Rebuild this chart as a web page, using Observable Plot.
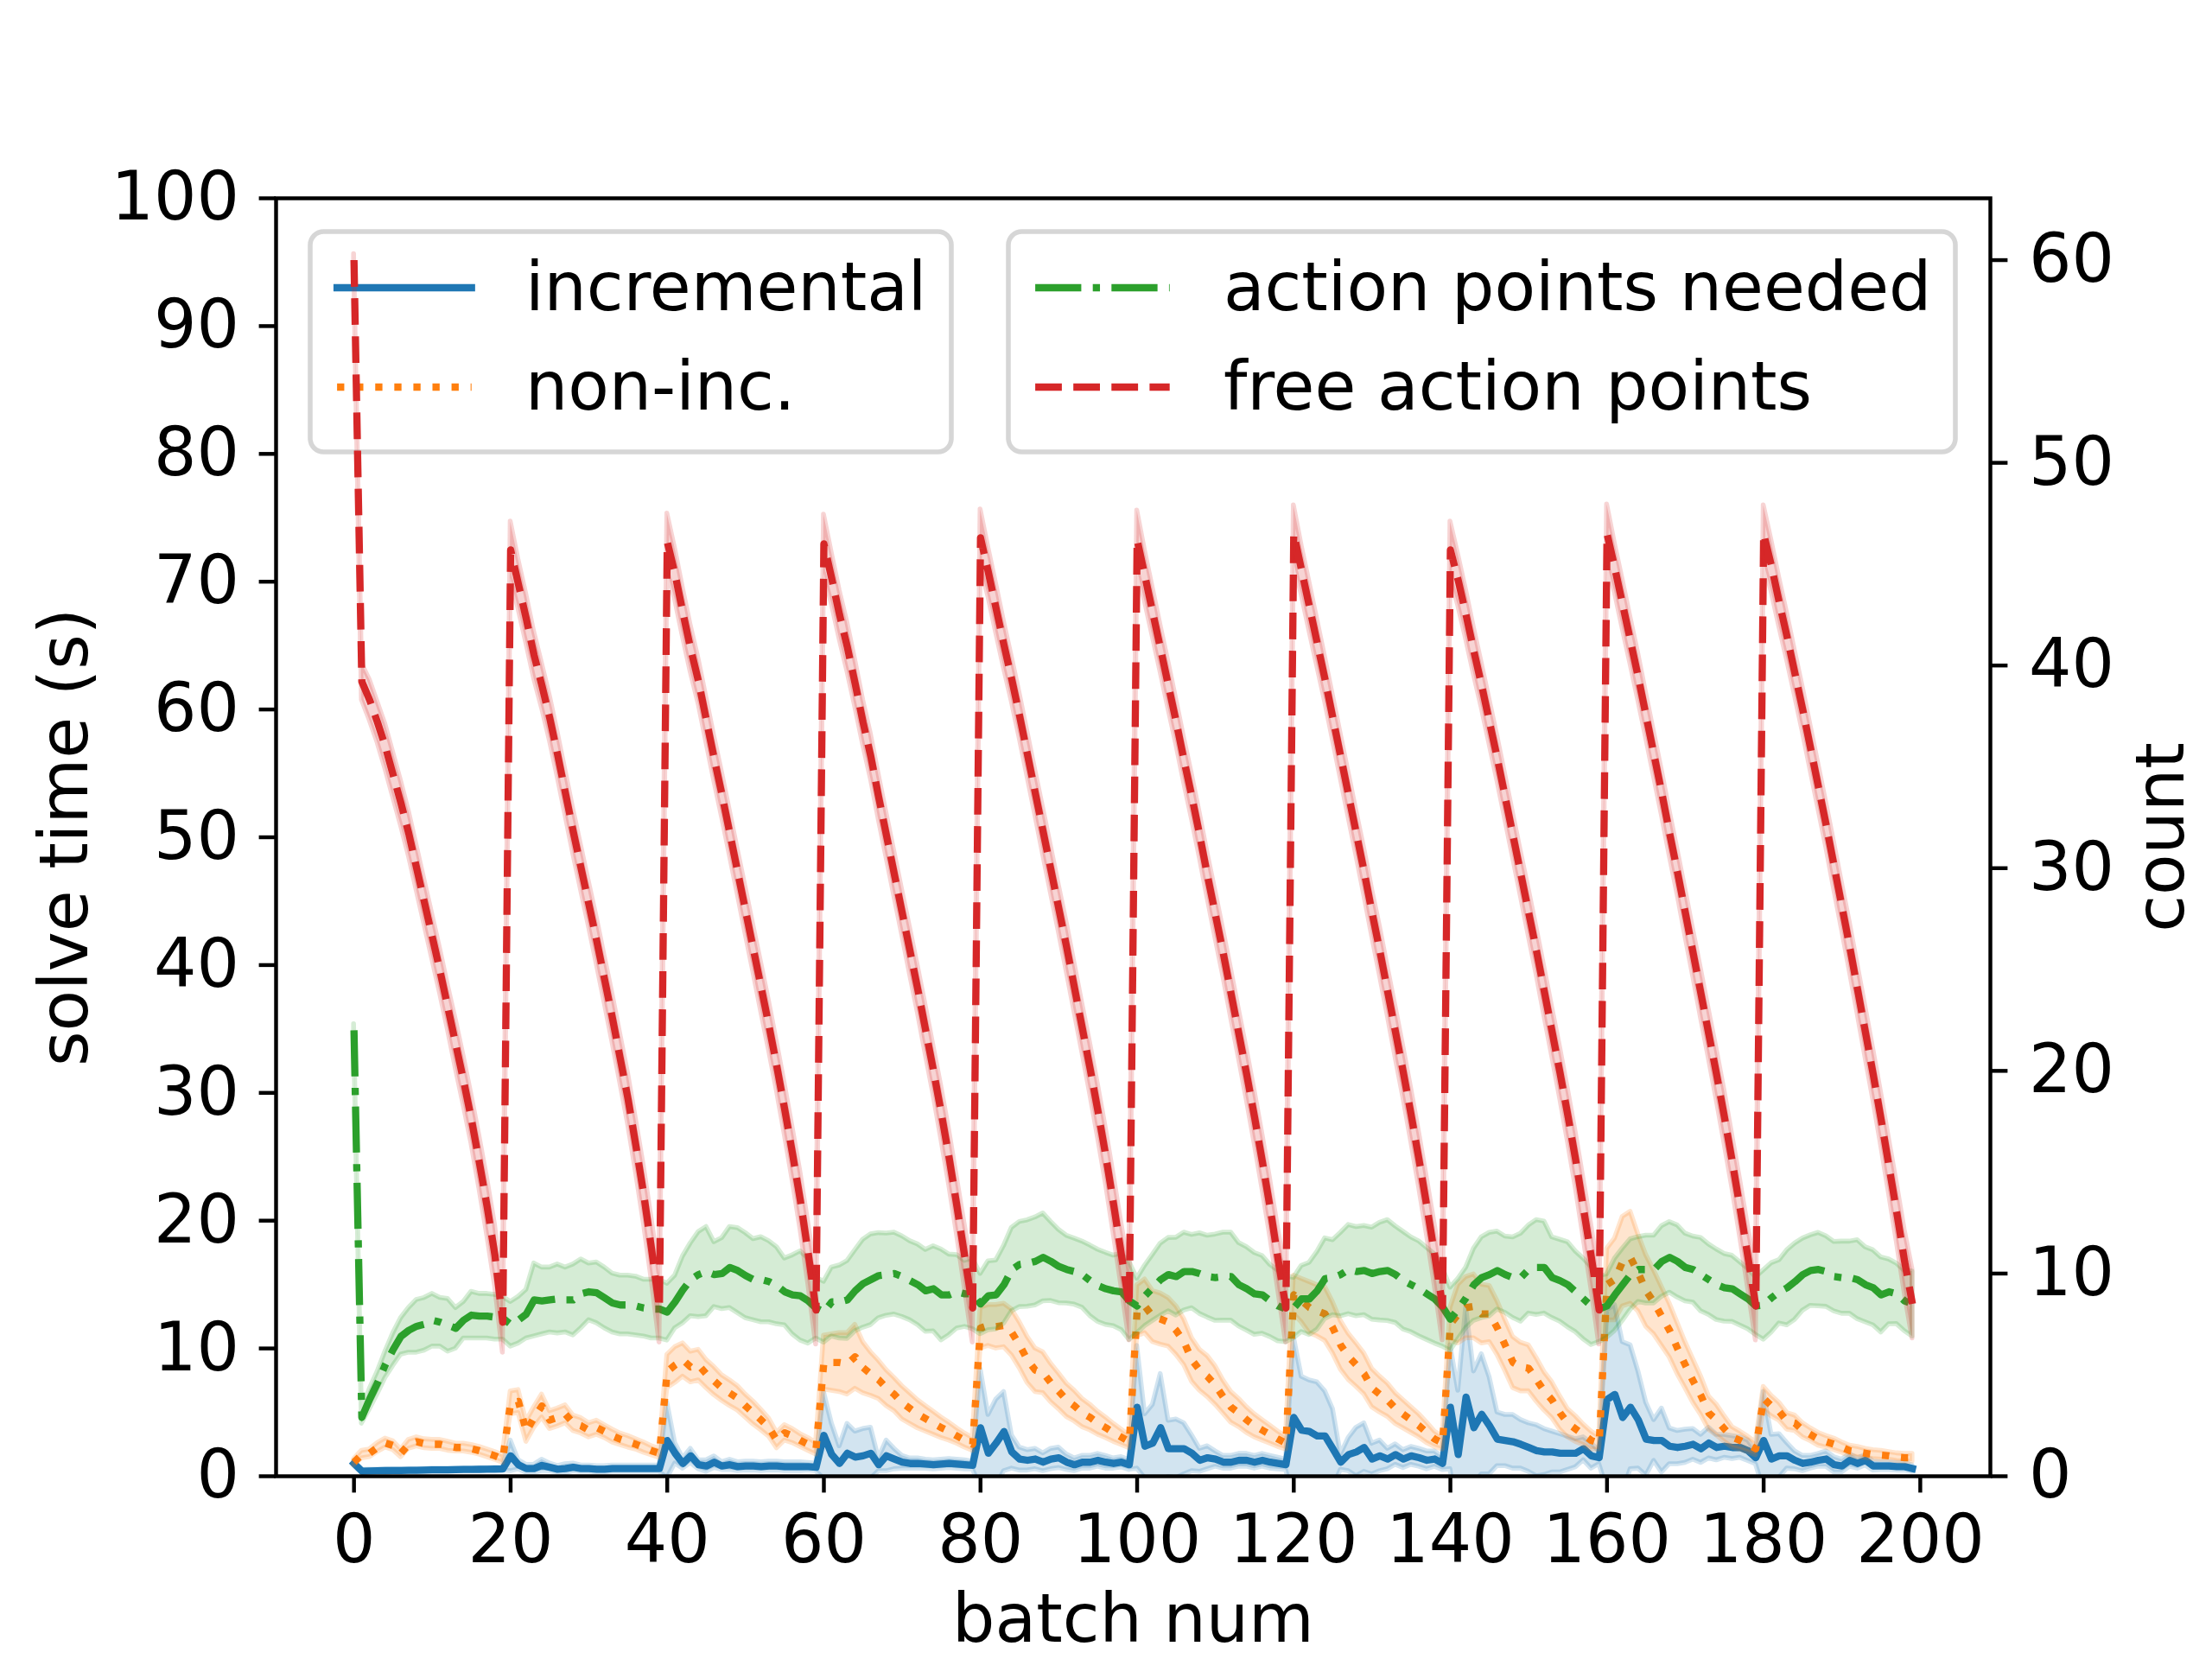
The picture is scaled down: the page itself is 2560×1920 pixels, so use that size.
<!DOCTYPE html>
<html><head><meta charset="utf-8">
<script src="https://cdn.jsdelivr.net/npm/d3@7"></script>
<script src="https://cdn.jsdelivr.net/npm/@observablehq/plot@0.6"></script>
<style>
html,body{margin:0;padding:0;background:#fff;}
#chart{position:relative;width:2560px;height:1920px;background:#fff;overflow:hidden;}
#chart > svg{position:absolute;left:0;top:0;}
</style></head><body><div id="chart"></div>
<script>
// ---------- data ----------
const batches = Array.from({length: 200}, (_, i) => i);

// incremental solve time (s): mean and CI half-width
const incMean = [
1.0,0.4,0.42,0.43,0.44,0.45,0.45,0.46,0.47,0.48,0.5,0.5,0.5,0.52,0.53,0.53,0.54,0.55,0.56,0.57,
1.6,0.9,0.6,0.6,0.85,0.7,0.55,0.6,0.7,0.6,0.6,0.55,0.55,0.6,0.6,0.6,0.6,0.6,0.6,0.6,
2.8,1.8,1.0,1.6,0.9,0.8,1.1,0.8,0.9,0.75,0.8,0.8,0.75,0.8,0.8,0.75,0.75,0.75,0.75,0.7,
3.2,1.7,1.0,1.8,1.5,1.6,1.8,0.9,1.6,1.35,1.1,1.0,1.0,0.95,0.9,0.95,1.0,0.95,0.9,0.85,
3.8,1.8,2.6,3.5,1.9,1.35,1.25,1.35,1.1,1.35,1.45,1.1,0.9,1.1,1.1,1.25,1.1,1.0,1.1,0.9,
5.4,2.35,2.6,3.8,2.15,2.15,2.15,1.8,1.25,1.45,1.35,1.1,1.1,1.25,1.25,1.1,1.25,1.1,1.0,0.9,
4.6,3.6,3.5,3.15,3.15,2.15,1.1,1.7,1.9,2.25,1.35,1.6,1.35,1.7,1.35,1.6,1.45,1.25,1.35,1.0,
5.4,1.7,6.2,3.8,4.85,3.95,2.9,2.8,2.7,2.5,2.25,2.0,1.9,1.9,1.8,1.8,1.8,2.15,1.6,1.45,
6.0,6.4,4.6,5.4,4.4,2.9,2.8,2.8,2.35,2.25,2.35,2.5,2.15,2.6,2.25,2.35,2.25,2.25,2.0,1.45,
2.8,1.35,1.6,1.6,1.25,1.0,1.1,1.25,1.35,0.9,0.8,1.25,1.0,1.25,0.8,0.8,0.8,0.75,0.75,0.6];
const incHw = [
0.15,0.1,0.1,0.1,0.1,0.1,0.1,0.1,0.1,0.1,0.1,0.1,0.1,0.1,0.1,0.1,0.1,0.1,0.1,0.1,
1.2,0.35,0.3,0.3,0.45,0.3,0.25,0.35,0.3,0.25,0.25,0.25,0.25,0.25,0.25,0.25,0.25,0.25,0.25,0.25,
2.95,0.8,0.4,0.55,0.35,0.45,0.45,0.3,0.4,0.35,0.35,0.35,0.35,0.35,0.35,0.35,0.35,0.35,0.3,0.3,
3.4,2.45,1.35,2.3,2.0,2.1,2.0,0.5,1.2,0.8,0.5,0.4,0.4,0.35,0.35,0.35,0.35,0.35,0.35,0.3,
4.6,3.0,3.4,3.1,1.3,0.9,0.8,0.8,0.7,0.8,0.8,0.6,0.5,0.5,0.5,0.5,0.5,0.4,0.4,0.4,
4.8,2.5,3.0,4.2,2.2,2.3,2.0,1.4,0.9,0.9,0.6,0.5,0.5,0.5,0.5,0.5,0.5,0.5,0.45,0.4,
6.3,4.2,4.0,4.2,3.5,3.1,0.6,1.3,1.9,1.9,1.2,1.2,0.8,0.8,0.7,0.7,0.7,0.7,0.6,0.5,
4.85,5.0,7.0,4.4,4.7,3.8,2.1,2.0,2.1,1.9,1.9,2.0,1.8,1.6,1.5,1.3,1.1,0.9,1.0,0.5,
7.0,7.0,5.9,4.85,3.8,2.85,1.6,2.5,1.4,1.3,1.3,1.2,1.1,1.2,1.0,0.9,0.9,0.8,0.8,0.5,
3.8,1.9,1.7,1.0,0.7,0.6,0.5,0.5,0.6,0.6,0.5,0.5,0.4,0.4,0.35,0.3,0.3,0.3,0.3,0.25];

// non-incremental solve time (s)
const nonMean = [
1.1,1.7,1.8,2.25,2.6,2.4,1.8,2.5,2.7,2.55,2.5,2.5,2.35,2.25,2.25,2.15,2.0,1.8,1.6,1.35,
5.75,5.85,3.5,4.6,5.5,4.4,4.6,4.85,4.15,3.95,3.6,3.8,3.5,3.15,2.9,2.7,2.5,2.25,2.0,1.8,
8.2,8.7,9.1,8.55,8.7,8.0,7.45,6.9,6.5,6.1,5.5,4.95,4.4,3.8,2.8,3.4,3.15,2.8,2.5,2.15,
8.9,8.9,8.9,8.8,9.35,8.5,8.0,7.55,6.9,6.4,5.75,5.3,4.85,4.5,4.15,3.8,3.5,3.15,2.8,2.5,
11.6,11.8,11.7,11.8,11.25,10.25,9.1,8.3,8.1,7.3,6.65,5.95,5.5,4.95,4.6,4.15,3.8,3.4,3.05,2.7,
12.95,13.3,12.5,12.3,12.05,11.4,10.5,9.1,8.3,7.8,7.1,6.2,5.4,4.95,4.4,3.95,3.6,3.25,2.9,2.6,
14.2,13.75,13.2,12.95,12.7,11.6,10.25,9.35,8.7,8.0,6.9,6.4,5.95,5.3,4.85,4.4,3.95,3.4,2.9,2.6,
11.9,12.7,13.2,13.3,12.7,12.7,11.6,10.25,8.9,8.55,8.45,7.55,6.65,5.95,4.95,4.15,3.7,3.25,2.8,2.6,
15.0,15.4,16.8,17.1,15.9,14.5,13.6,12.5,11.4,10.0,8.7,7.45,6.3,4.95,4.4,3.7,3.05,2.8,2.5,2.15,
6.1,5.5,5.05,4.3,4.15,3.6,3.25,2.9,2.7,2.5,2.25,2.0,1.9,1.8,1.7,1.65,1.6,1.5,1.45,1.45];
const nonHw = [
0.25,0.3,0.3,0.35,0.35,0.35,0.3,0.35,0.35,0.35,0.35,0.35,0.35,0.3,0.3,0.3,0.3,0.3,0.3,0.3,
0.9,0.9,0.8,0.8,0.9,0.7,0.7,0.7,0.6,0.6,0.55,0.55,0.5,0.5,0.45,0.45,0.4,0.4,0.35,0.35,
1.3,1.4,1.3,1.2,1.2,1.1,1.1,1.0,1.0,0.95,0.9,0.9,0.8,0.7,0.6,0.6,0.55,0.5,0.5,0.45,
2.1,2.2,2.3,2.4,2.5,2.0,1.7,1.5,1.4,1.3,1.3,1.2,1.1,1.0,0.9,0.8,0.7,0.6,0.55,0.5,
1.6,1.6,1.7,1.7,1.8,1.8,1.8,1.7,1.6,1.5,1.4,1.3,1.2,1.1,1.0,0.9,0.8,0.7,0.6,0.5,
2.0,2.1,2.0,2.0,1.9,1.9,1.8,1.7,1.6,1.6,1.5,1.3,1.2,1.1,1.0,0.9,0.8,0.7,0.6,0.5,
1.5,1.7,2.0,2.0,2.1,2.0,1.9,1.8,1.7,1.6,1.5,1.4,1.3,1.2,1.1,1.0,0.9,0.8,0.6,0.5,
1.3,2.3,2.4,2.5,2.3,2.2,2.1,2.0,2.0,1.9,1.8,1.7,1.5,1.4,1.3,1.1,1.0,0.8,0.7,0.5,
2.8,3.2,3.5,3.6,3.0,2.8,2.5,2.3,2.1,2.0,1.8,1.7,1.5,1.3,1.2,1.0,0.8,0.7,0.6,0.5,
0.9,0.8,0.7,0.65,0.6,0.55,0.5,0.5,0.45,0.45,0.4,0.4,0.4,0.35,0.35,0.35,0.3,0.3,0.3,0.3];

// action points needed (count)
const needMean = [
22.0,2.9,3.8,4.6,5.5,6.25,6.9,7.2,7.4,7.5,7.7,7.6,7.45,7.3,7.7,7.95,7.9,7.9,7.85,7.8,
7.5,7.7,8.0,8.7,8.65,8.7,8.75,8.7,8.7,9.0,9.1,9.05,8.8,8.55,8.45,8.45,8.4,8.3,8.25,8.25,
8.1,8.6,9.2,9.7,9.95,10.1,9.95,10.0,10.3,10.15,9.9,9.7,9.7,9.6,9.4,9.1,8.95,8.9,8.65,8.3,
8.1,8.6,8.6,8.7,9.15,9.5,9.7,9.9,9.95,10.0,9.85,9.65,9.45,9.15,9.25,8.95,8.95,9.1,9.0,9.0,
8.5,8.9,8.95,9.45,10.2,10.45,10.5,10.6,10.8,10.6,10.35,10.2,10.1,9.95,9.65,9.4,9.25,9.15,9.1,8.65,
8.4,8.9,9.3,9.7,9.95,9.85,10.1,10.1,10.0,9.85,9.8,9.85,9.85,9.45,9.25,9.0,8.95,8.65,8.4,8.25,
8.3,8.75,8.75,9.15,9.75,9.8,9.95,10.2,10.1,10.15,10.0,10.1,10.15,9.95,9.65,9.45,9.25,9.0,8.75,8.35,
7.75,8.25,8.8,9.45,9.8,9.95,10.15,9.95,9.8,9.8,10.2,10.3,10.3,9.8,9.65,9.45,9.1,8.75,8.4,8.25,
8.4,8.95,9.45,9.95,10.2,10.2,10.2,10.6,10.8,10.6,10.3,10.2,9.95,9.7,9.45,9.3,9.25,9.0,8.75,8.4,
8.45,8.8,9.1,9.3,9.6,9.95,10.15,10.2,10.1,9.85,9.8,9.8,9.7,9.45,9.3,8.95,9.1,9.0,8.65,8.5];
const needHw = [
0.3,0.3,0.5,0.55,0.65,0.8,0.9,1.1,1.3,1.3,1.3,1.2,1.3,1.0,0.9,1.15,1.1,1.1,1.1,1.05,
1.1,1.15,1.2,1.8,1.65,1.6,1.7,1.6,1.75,1.7,1.4,1.5,1.5,1.45,1.45,1.45,1.45,1.4,1.45,1.45,
1.4,1.3,1.65,1.8,2.1,2.2,1.6,1.75,2.0,2.1,2.1,2.0,2.1,2.0,1.9,1.65,1.95,2.2,2.1,1.5,
1.5,1.7,1.8,1.92,2.0,2.17,2.24,2.1,2.03,2.02,1.99,1.95,1.99,2.02,2.1,2.24,1.99,1.81,1.63,1.74,
1.49,1.7,1.7,1.92,2.06,2.1,2.13,2.17,2.17,1.95,1.81,1.67,1.63,1.63,1.74,1.78,1.78,1.74,1.88,1.92,
1.35,1.49,1.63,1.78,1.81,1.92,1.92,1.81,1.99,2.02,2.13,2.17,2.17,2.06,2.06,2.02,1.92,1.78,1.74,1.63,
1.49,1.63,1.78,1.92,1.99,1.85,2.06,2.2,2.2,2.2,2.27,2.41,2.49,2.38,2.41,2.34,2.34,2.27,2.2,1.95,
1.56,1.49,1.49,1.78,1.99,2.06,1.92,1.88,1.99,2.17,2.17,2.34,2.27,1.99,2.02,2.1,1.99,1.99,1.92,1.63,
1.56,1.78,1.78,1.74,1.6,1.67,1.67,1.74,1.74,1.78,1.67,1.63,1.81,1.74,1.74,1.67,1.63,1.56,1.49,1.42,
1.71,1.71,1.56,1.85,1.88,1.78,1.74,1.81,1.74,1.71,1.78,1.78,1.95,1.85,1.85,1.85,1.6,1.49,1.49,1.6];

// free action points (count)
const freeMean = [
60.0,39.2,38.3,37.2,36.0,34.6,33.2,31.7,30.0,28.3,26.6,24.9,23.1,21.3,19.5,17.6,15.5,13.3,10.9,7.6,
45.7,44.0,42.3,40.5,39.0,37.4,35.6,33.7,31.8,30.0,28.2,26.4,24.5,22.6,20.6,18.6,16.3,13.9,11.2,8.3,
46.1,44.5,42.6,40.8,39.2,37.3,35.4,33.6,31.7,29.8,27.9,26.0,24.1,22.2,20.2,18.1,15.9,13.6,11.0,8.2,
46.0,44.3,42.5,40.9,39.1,37.2,35.5,33.5,31.6,29.7,27.8,25.9,24.0,22.0,20.0,17.9,15.7,13.3,10.8,8.3,
46.3,44.6,42.8,41.0,39.3,37.5,35.6,33.7,31.8,29.9,28.0,26.1,24.1,22.1,20.1,18.0,15.8,13.4,10.9,8.4,
46.2,44.4,42.6,40.8,39.0,37.2,35.3,33.5,31.6,29.6,27.7,25.8,23.8,21.8,19.8,17.7,15.5,13.2,10.7,8.3,
46.5,44.7,42.9,41.1,39.3,37.4,35.5,33.6,31.7,29.8,27.8,25.9,23.9,21.9,19.9,17.8,15.6,13.3,10.9,8.4,
45.7,44.2,42.5,40.7,39.0,37.2,35.4,33.5,31.6,29.7,27.8,25.9,23.9,21.9,19.9,17.8,15.6,13.2,10.8,8.2,
46.5,44.8,43.0,41.2,39.4,37.5,35.6,33.7,31.7,29.8,27.8,25.8,23.8,21.8,19.8,17.7,15.5,13.2,10.8,8.4,
46.5,44.9,43.1,41.4,39.6,37.8,35.9,34.0,32.1,30.1,28.1,26.1,24.0,21.9,19.8,17.6,15.3,13.0,10.6,8.5];
const freeHw = [
0.3,0.9,1.0,1.0,1.1,1.1,1.1,1.1,1.1,1.1,1.1,1.1,1.1,1.2,1.2,1.2,1.3,1.4,1.5,1.5,
1.4,1.2,1.2,1.15,1.1,1.1,1.1,1.1,1.1,1.1,1.1,1.15,1.15,1.2,1.2,1.25,1.3,1.4,1.5,1.7,
1.4,1.25,1.2,1.15,1.1,1.1,1.1,1.1,1.1,1.1,1.15,1.15,1.2,1.2,1.2,1.25,1.3,1.4,1.5,1.7,
1.45,1.25,1.2,1.2,1.15,1.1,1.1,1.1,1.1,1.1,1.1,1.15,1.15,1.2,1.2,1.3,1.35,1.4,1.55,1.7,
1.4,1.2,1.2,1.15,1.1,1.1,1.1,1.1,1.15,1.15,1.15,1.2,1.2,1.2,1.25,1.3,1.35,1.45,1.55,1.7,
1.45,1.25,1.2,1.15,1.15,1.1,1.1,1.1,1.1,1.1,1.15,1.15,1.2,1.2,1.25,1.3,1.35,1.4,1.5,1.7,
1.4,1.2,1.2,1.15,1.1,1.1,1.1,1.1,1.1,1.15,1.15,1.2,1.2,1.25,1.25,1.3,1.35,1.4,1.5,1.7,
1.4,1.25,1.2,1.15,1.1,1.1,1.1,1.1,1.1,1.1,1.15,1.15,1.2,1.2,1.25,1.3,1.35,1.45,1.55,1.7,
1.45,1.2,1.2,1.15,1.15,1.1,1.1,1.1,1.1,1.1,1.15,1.15,1.2,1.2,1.25,1.3,1.3,1.4,1.5,1.7,
1.4,1.25,1.2,1.15,1.1,1.1,1.1,1.1,1.1,1.15,1.15,1.2,1.2,1.25,1.25,1.3,1.35,1.45,1.55,1.7];

const xTicks = [0,20,40,60,80,100,120,140,160,180,200];
const leftTicks = [0,10,20,30,40,50,60,70,80,90,100];
const rightTicks = [0,10,20,30,40,50,60];
const legend1Labels = ["incremental", "non-inc."];
const legend2Labels = ["action points needed", "free action points"];
const xLabel = "batch num", leftLabel = "solve time (s)", rightLabel = "count";

// ---------- styles / layout ----------
const C = {blue:"#1f77b4", orange:"#ff7f0e", green:"#2ca02c", red:"#d62728"};
const W = 2560, H = 1920, mL = 319, mR = 257, mT = 229, mB = 212;
const FS = 77.8, LW = 8.33, EW = 5.56, TW = 4.44;
const DASH = "30.8,13.3", DOT = "8.33,13.75", DASHDOT = "53.3,13.3,8.33,13.3";
const xDomain = [-9.95, 208.95];

const rows = batches.map((b, i) => ({
  batch: b,
  inc: incMean[i], incLo: incMean[i] - incHw[i], incHi: incMean[i] + incHw[i],
  non: nonMean[i], nonLo: nonMean[i] - nonHw[i], nonHi: nonMean[i] + nonHw[i],
  need: needMean[i], needLo: needMean[i] - needHw[i], needHi: needMean[i] + needHw[i],
  free: freeMean[i], freeLo: freeMean[i] - freeHw[i], freeHi: freeMean[i] + freeHw[i]
}));

const base = {
  width: W, height: H, marginLeft: mL, marginRight: mR, marginTop: mT, marginBottom: mB,
  style: {fontFamily: "'DejaVu Sans', sans-serif", fontSize: FS + "px", background: "transparent", color: "#000", overflow: "visible"}
};
const band = (y1, y2, color) => Plot.areaY(rows, {x: "batch", y1, y2, fill: color, fillOpacity: 0.2, stroke: color, strokeOpacity: 0.2, strokeWidth: EW, clip: true});
const line = (y, color, dash, cap) => Plot.lineY(rows, {x: "batch", y, stroke: color, strokeWidth: LW, strokeDasharray: dash, strokeLinecap: cap, strokeLinejoin: "round", clip: true});

const p1 = Plot.plot({
  ...base,
  x: {domain: xDomain},
  y: {domain: [0, 100]},
  marks: [
    line("inc", C.blue, null, "square"),
    band("incLo", "incHi", C.blue),
    line("non", C.orange, DOT, "butt"),
    band("nonLo", "nonHi", C.orange),
    Plot.axisX({ticks: xTicks, tickSize: 19.4, tickPadding: 25, strokeWidth: TW, label: null, tickFormat: d => String(d)}),
    Plot.axisY({ticks: leftTicks, tickSize: 19.4, tickPadding: 23, strokeWidth: TW, label: null, tickFormat: d => String(d)}),
    Plot.text([xLabel], {frameAnchor: "bottom", text: d => d, textAnchor: "middle", lineAnchor: "middle", dy: 167, fontSize: FS}),
    Plot.text([leftLabel], {frameAnchor: "left", text: d => d, textAnchor: "middle", lineAnchor: "middle", rotate: -90, dx: -243, fontSize: FS})
  ]
});

const p2 = Plot.plot({
  ...base,
  x: {domain: xDomain, axis: null},
  y: {domain: [0, 63.05]},
  marks: [
    line("need", C.green, DASHDOT, "butt"),
    band("needLo", "needHi", C.green),
    line("free", C.red, DASH, "butt"),
    band("freeLo", "freeHi", C.red),
    Plot.axisY({anchor: "right", ticks: rightTicks, tickSize: 19.4, tickPadding: 25, strokeWidth: TW, label: null, tickFormat: d => String(d)}),
    Plot.frame({stroke: "#000", strokeWidth: TW}),
    Plot.text([rightLabel], {frameAnchor: "right", text: d => d, textAnchor: "middle", lineAnchor: "middle", rotate: -90, dx: 199, fontSize: FS})
  ]
});

// ---------- legends ----------
function legend(box, handles, labels) {
  const svg = d3.create("svg").attr("width", W).attr("height", H)
    .attr("font-family", "'DejaVu Sans', sans-serif").attr("font-size", FS);
  svg.append("rect").attr("x", box.x).attr("y", box.y).attr("width", box.w).attr("height", box.h)
    .attr("rx", 15.6).attr("ry", 15.6)
    .attr("fill", "#fff").attr("fill-opacity", 0.8)
    .attr("stroke", "#cccccc").attr("stroke-opacity", 0.8).attr("stroke-width", EW);
  const hx0 = box.x + 31.1, hx1 = hx0 + 155.6, tx = hx1 + 62.2;
  const rowsY = [box.y + 65, box.y + 180];
  handles.forEach((h, i) => {
    svg.append("line").attr("x1", hx0).attr("x2", hx1).attr("y1", rowsY[i]).attr("y2", rowsY[i])
      .attr("stroke", h.color).attr("stroke-width", LW)
      .attr("stroke-dasharray", h.dash || null).attr("stroke-linecap", h.cap);
    svg.append("text").attr("x", tx).attr("y", rowsY[i] + 26).attr("fill", "#000").text(labels[i]);
  });
  return svg.node();
}
const lg1 = legend({x: 359, y: 268, w: 742, h: 255},
  [{color: C.blue, dash: null, cap: "square"}, {color: C.orange, dash: DOT, cap: "butt"}], legend1Labels);
const lg2 = legend({x: 1167, y: 268, w: 1096, h: 255},
  [{color: C.green, dash: DASHDOT, cap: "butt"}, {color: C.red, dash: DASH, cap: "butt"}], legend2Labels);

const chart = document.getElementById("chart");
chart.append(p1, lg1, p2, lg2);
</script>
</body></html>
